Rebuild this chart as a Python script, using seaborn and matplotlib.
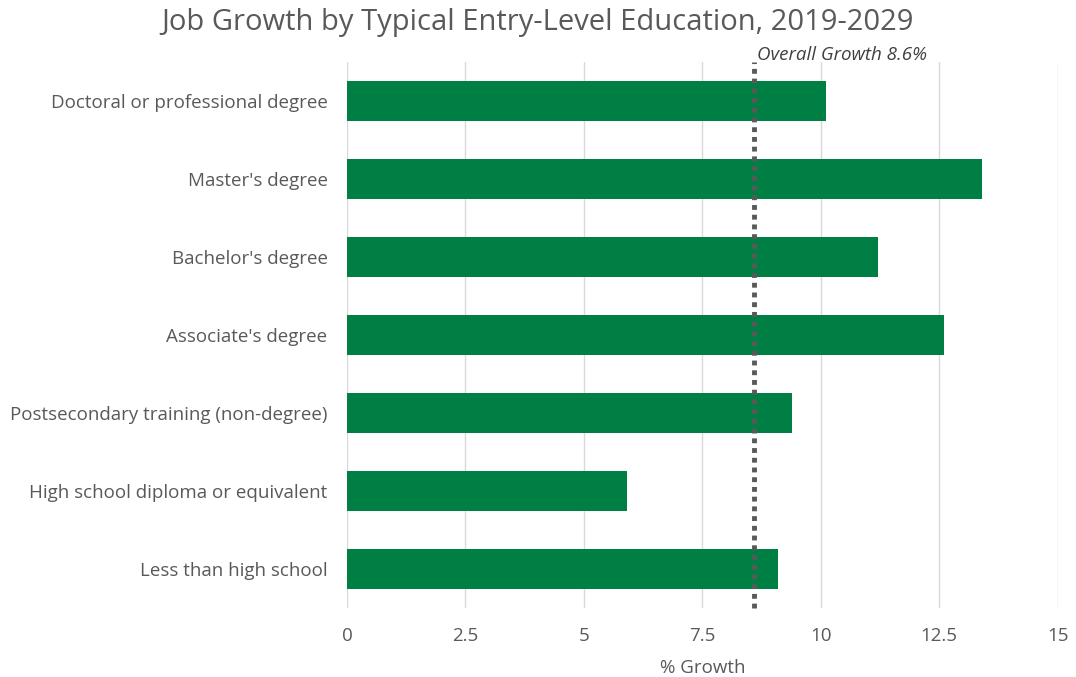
import matplotlib
matplotlib.use("Agg")
import matplotlib.pyplot as plt
import seaborn as sns
import pandas as pd

categories = ["Doctoral or professional degree", "Master's degree", "Bachelor's degree",
              "Associate's degree", "Postsecondary training (non-degree)",
              "High school diploma or equivalent", "Less than high school"]
growth = [10.1, 13.4, 11.2, 12.6, 9.4, 5.9, 9.1]
overall = 8.6
x_ticks = [0, 2.5, 5, 7.5, 10, 12.5, 15]
x_tick_labels = ["0", "2.5", "5", "7.5", "10", "12.5", "15"]

sns.set_theme(style="white")
plt.rcParams['font.family'] = ['Open Sans', 'DejaVu Sans']

df = pd.DataFrame({"cat": categories, "val": growth})
fig = plt.figure(figsize=(10.76, 6.77), dpi=100)
ax = fig.add_axes([0.3225, 0.102, 0.6605, 0.806])

sns.barplot(data=df, x="val", y="cat", color="#007F44", width=0.51, ax=ax,
            saturation=1, edgecolor="none")
ax.set_xlim(0, 15)
ax.set_ylim(6.5, -0.5)
ax.set_xticks(x_ticks)
ax.set_xticklabels(x_tick_labels)
ax.xaxis.grid(True, color="#D9D9D9", linewidth=1)
ax.set_axisbelow(True)
for s in ax.spines.values():
    s.set_visible(False)
ax.tick_params(axis="y", length=0, labelsize=13.5, colors="#595959", pad=14)
ax.tick_params(axis="x", length=0, labelsize=13.5, colors="#595959", pad=14)
ax.set_ylabel("")
ax.set_xlabel("% Growth", fontsize=13.5, color="#595959", labelpad=10)

ax.axvline(overall, color="#595959", linestyle=(0, (1, 1)), linewidth=3.5, ymin=0, ymax=1.0,
           clip_on=False)
ax.text(overall + 0.05, 1.013, f"Overall Growth {overall}%", style="italic", fontsize=13.5,
        color="#404040", ha="left", va="center", transform=ax.get_xaxis_transform())

fig.suptitle("Job Growth by Typical Entry-Level Education, 2019-2029", fontsize=21,
             color="#595959", x=0.5, y=0.988)
fig.savefig("out.png", dpi=100, facecolor="white")
